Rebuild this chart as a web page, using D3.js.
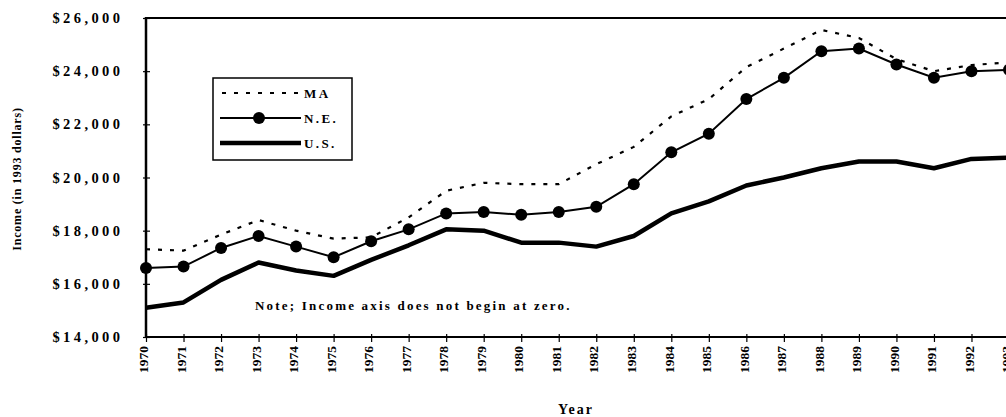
<!DOCTYPE html>
<html>
<head>
<meta charset="utf-8">
<script src="https://d3js.org/d3.v7.min.js"></script>
<style>
  body { margin: 0; background: #fff; }
  svg { display: block; }
  text { font-family: "Liberation Serif", "DejaVu Serif", serif; font-weight: bold; fill: #000; }
</style>
</head>
<body>
<script>
// years on the x axis
var years = [1970, 1971, 1972, 1973, 1974, 1975, 1976, 1977, 1978, 1979, 1980, 1981,
             1982, 1983, 1984, 1985, 1986, 1987, 1988, 1989, 1990, 1991, 1992, 1993];

// income in 1993 dollars
var maIncome = [17300, 17250, 17850, 18400, 18000, 17700, 17750, 18500, 19500, 19800, 19750, 19750,
                20500, 21150, 22300, 22950, 24150, 24850, 25550, 25250, 24450, 24000, 24230, 24330];
var neIncome = [16600, 16650, 17350, 17800, 17400, 17000, 17600, 18050, 18650, 18700, 18600, 18700,
                18900, 19750, 20950, 21650, 22950, 23750, 24750, 24850, 24250, 23750, 24000, 24050];
var usIncome = [15100, 15300, 16150, 16800, 16500, 16300, 16900, 17450, 18050, 18000, 17550, 17550,
                17400, 17800, 18650, 19100, 19700, 20000, 20350, 20600, 20600, 20350, 20700, 20750];

var yTicks = [14000, 16000, 18000, 20000, 22000, 24000, 26000];

var width = 1006, height = 417;
var plotLeft = 146, plotRight = 1009, plotTop = 18, plotBottom = 337;

var svg = d3.select("body").append("svg")
  .attr("width", width)
  .attr("height", height);

var x = d3.scaleLinear().domain([1970, 1993]).range([plotLeft, plotRight]);
var y = d3.scaleLinear().domain([14000, 26000]).range([plotBottom, plotTop]);

// top frame line
svg.append("line")
  .attr("x1", plotLeft).attr("x2", width)
  .attr("y1", plotTop).attr("y2", plotTop)
  .attr("stroke", "#000").attr("stroke-width", 2);

// y axis
var yAxis = svg.append("g")
  .attr("transform", "translate(" + plotLeft + ",0)")
  .call(d3.axisLeft(y).tickValues(yTicks).tickSize(0).tickPadding(26)
    .tickFormat(function (d) { return "$" + d3.format(",")(d); }));
yAxis.select(".domain").remove();
yAxis.selectAll("text")
  .style("font-size", "14.5px")
  .style("letter-spacing", "3.4px")
  .attr("dx", "3.4");
yAxis.selectAll(".tick").append("line")
  .attr("x1", -3).attr("x2", 4)
  .attr("stroke", "#000").attr("stroke-width", 1.2);
svg.append("line")
  .attr("x1", plotLeft).attr("x2", plotLeft)
  .attr("y1", plotTop - 1).attr("y2", plotBottom + 1)
  .attr("stroke", "#000").attr("stroke-width", 2.5);

// x axis
var xAxis = svg.append("g")
  .attr("transform", "translate(0," + plotBottom + ")")
  .call(d3.axisBottom(x).tickValues(years).tickSize(0).tickFormat(d3.format("d")));
xAxis.select(".domain").remove();
xAxis.selectAll(".tick").append("line")
  .attr("y1", -3).attr("y2", 5)
  .attr("stroke", "#000").attr("stroke-width", 1.2);
xAxis.selectAll("text")
  .style("font-size", "13.5px")
  .attr("text-anchor", "end")
  .attr("transform", "rotate(-90)")
  .attr("x", -9).attr("y", -3).attr("dy", "0.35em");
svg.append("line")
  .attr("x1", plotLeft).attr("x2", width)
  .attr("y1", plotBottom).attr("y2", plotBottom)
  .attr("stroke", "#000").attr("stroke-width", 2);

// axis titles
svg.append("text")
  .attr("transform", "translate(21,179) rotate(-90)")
  .attr("text-anchor", "middle")
  .style("font-size", "12px")
  .style("letter-spacing", "0.8px")
  .text("Income (in 1993 dollars)");

svg.append("text")
  .attr("x", 576).attr("y", 414)
  .attr("text-anchor", "middle")
  .style("font-size", "14px")
  .style("letter-spacing", "2px")
  .text("Year");

// note
svg.append("text")
  .attr("x", 255).attr("y", 310)
  .style("font-size", "13px")
  .style("letter-spacing", "2.2px")
  .text("Note; Income axis does not begin at zero.");

// lines
var line = d3.line()
  .x(function (d, i) { return x(years[i]); })
  .y(function (d) { return y(d); });

svg.append("path")
  .datum(usIncome)
  .attr("d", line)
  .attr("fill", "none")
  .attr("stroke", "#000")
  .attr("stroke-width", 4.5)
  .attr("stroke-linejoin", "round");

svg.append("path")
  .datum(maIncome)
  .attr("d", line)
  .attr("fill", "none")
  .attr("stroke", "#000")
  .attr("stroke-width", 2.2)
  .attr("stroke-dasharray", "4,8");

svg.append("path")
  .datum(neIncome)
  .attr("d", line)
  .attr("fill", "none")
  .attr("stroke", "#000")
  .attr("stroke-width", 2);

svg.selectAll("circle.ne")
  .data(neIncome)
  .enter().append("circle")
  .attr("class", "ne")
  .attr("cx", function (d, i) { return x(years[i]); })
  .attr("cy", function (d) { return y(d); })
  .attr("r", 6)
  .attr("fill", "#000");

// legend
var legend = svg.append("g");
legend.append("rect")
  .attr("x", 213).attr("y", 78)
  .attr("width", 139).attr("height", 82)
  .attr("fill", "#fff")
  .attr("stroke", "#000").attr("stroke-width", 1.5);

var legendItems = ["MA", "N.E.", "U.S."];
var legendY = [93, 118, 143];

legend.append("line")
  .attr("x1", 222).attr("x2", 301).attr("y1", legendY[0]).attr("y2", legendY[0])
  .attr("stroke", "#000").attr("stroke-width", 2.2).attr("stroke-dasharray", "4,8");
legend.append("line")
  .attr("x1", 220).attr("x2", 301).attr("y1", legendY[1]).attr("y2", legendY[1])
  .attr("stroke", "#000").attr("stroke-width", 2);
legend.append("circle")
  .attr("cx", 259).attr("cy", legendY[1]).attr("r", 6).attr("fill", "#000");
legend.append("line")
  .attr("x1", 220).attr("x2", 301).attr("y1", legendY[2]).attr("y2", legendY[2])
  .attr("stroke", "#000").attr("stroke-width", 4.5);

legend.selectAll("text")
  .data(legendItems)
  .enter().append("text")
  .attr("x", 304)
  .attr("y", function (d, i) { return legendY[i]; })
  .attr("dy", "0.36em")
  .style("font-size", "13px")
  .style("letter-spacing", "2.4px")
  .text(function (d) { return d; });
</script>
</body>
</html>
